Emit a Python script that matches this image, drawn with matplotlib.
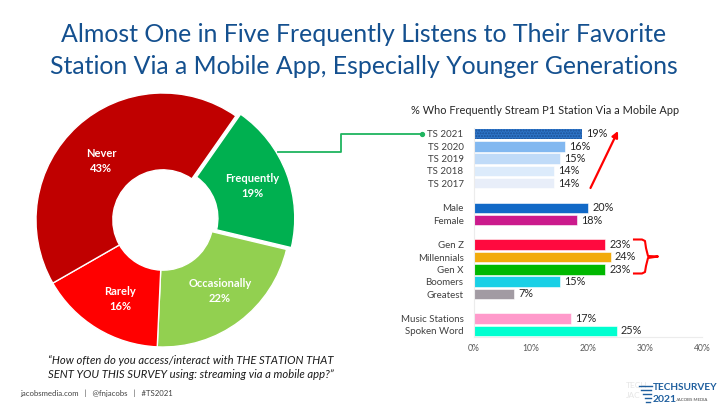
import matplotlib
matplotlib.use("Agg")
import matplotlib.pyplot as plt

plt.rcParams["font.family"] = ["Lato", "DejaVu Sans"]

# donut data, clockwise from the top right
slices = ["Frequently", "Occasionally", "Rarely", "Never"]
slice_vals = [19, 22, 16, 43]
slice_colors = ["#00b050", "#92d050", "#ff0000", "#c00000"]

# bars
bar_names = ["TS 2021", "TS 2020", "TS 2019", "TS 2018", "TS 2017",
             "Male", "Female",
             "Gen Z", "Millennials", "Gen X", "Boomers", "Greatest",
             "Music Stations", "Spoken Word"]
bar_vals = [19, 16, 15, 14, 14, 20, 18, 23, 24, 23, 15, 7, 17, 25]
bar_rows = [0, 1, 2, 3, 4, 6, 7, 9, 10, 11, 12, 13, 15, 16]
bar_colors = ["#2e75c8", "#82b8f0", "#c0dbf8", "#dcebfb", "#e8eef9",
              "#1269c7", "#cb1a8c",
              "#ff0a3f", "#f2ab0c", "#00b800", "#19d0e6", "#a29ba3",
              "#ff9acb", "#00ffd0"]
x_ticks = [0, 10, 20, 30, 40]

W, H = 725, 408
fig = plt.figure(figsize=(W / 100, H / 100), dpi=100, facecolor="white")


def px_axes(left, top, right, bottom):
    return fig.add_axes([left / W, 1 - bottom / H, (right - left) / W, (bottom - top) / H])


# overlay in pixel coordinates for the slide furniture
over = px_axes(0, 0, W, H)
over.set_xlim(0, W)
over.set_ylim(H, 0)
over.axis("off")
over.set_zorder(5)
over.patch.set_alpha(0)

over.text(364, 34.5, "Almost One in Five Frequently Listens to Their Favorite",
          ha="center", va="center", fontsize=17.9, color="#14508f")
over.text(364, 67, "Station Via a Mobile App, Especially Younger Generations",
          ha="center", va="center", fontsize=17.9, color="#14508f")

# donut
r = 127
pie_ax = px_axes(163 - 1.2 * r, 220 - 1.2 * r, 163 + 1.2 * r, 220 + 1.2 * r)
pie_ax.pie(slice_vals, colors=slice_colors, startangle=55, counterclock=False,
           explode=[0.04, 0, 0, 0], radius=1,
           wedgeprops=dict(width=0.605, edgecolor="white", linewidth=1.0))
pie_ax.set_xlim(-1.2, 1.2)
pie_ax.set_ylim(-1.2, 1.2)

label_xy = [(252, 186), (220, 291), (120, 299), (101, 161)]
for name, val, (lx, ly) in zip(slices, slice_vals, label_xy):
    over.text(lx, ly, f"{name}\n{val}%", ha="center", va="center", color="white",
              fontsize=8, fontweight="bold", linespacing=1.4)

# bars
ax = px_axes(474, 127.8, 702, 337.1)
bars = ax.barh(bar_rows, bar_vals, height=0.86, color=bar_colors, edgecolor="white", linewidth=0.4)
bars[0].set_hatch("......")
bars[0].set_edgecolor("#1b4f94")
bars[0].set_linewidth(0)
ax.set_xlim(0, 40)
ax.set_ylim(16.5, -0.5)
ax.set_yticks(bar_rows)
ax.set_yticklabels(bar_names, fontsize=7, color="#404040")
ax.set_xticks(x_ticks)
ax.set_xticklabels([f"{t}%" for t in x_ticks], fontsize=6.2, color="#595959")
ax.tick_params(length=0, pad=10)
ax.tick_params(axis="y", pad=7.5)
ax.tick_params(axis="x", pad=5)
for s in ["top", "right"]:
    ax.spines[s].set_visible(False)
for s in ["left", "bottom"]:
    ax.spines[s].set_color("#ececec")
labels = ax.bar_label(bars, labels=[f"{v}%" for v in bar_vals], padding=3, fontsize=7.8, color="#262626")
for lab in labels:
    lab.set_y(lab.get_position()[1] + 0.08)

over.text(545, 111, "% Who Frequently Stream P1 Station Via a Mobile App",
          ha="center", va="center", fontsize=7.9, color="#262626")

# connector from donut to the TS 2021 bar
over.plot([278, 341, 341, 422], [152, 152, 133.5, 133.5], color="#1fb45f", lw=1.3)
over.plot([422], [133.5], "o", color="#1fb45f", ms=2.8)

# trend arrow
over.annotate("", xy=(618, 131), xytext=(590.5, 188),
              arrowprops=dict(arrowstyle="-|>", color="#ff0000", lw=1.6, mutation_scale=9,
                              shrinkA=0, shrinkB=0))

# bracket around the younger generations
over.plot([634, 642, 645, 646, 648, 658, 648, 646, 645, 642, 634],
          [239.5, 239.5, 241, 248, 256, 256.5, 258, 266, 272, 273.5, 273.5],
          color="#ff0000", lw=1.5, solid_joinstyle="round")

# question
over.text(191, 361, "\u201cHow often do you access/interact with THE STATION THAT",
          ha="center", va="center", fontsize=8.15, style="italic", color="#1a1a1a")
over.text(191, 375, "SENT YOU THIS SURVEY using: streaming via a mobile app?\u201d",
          ha="center", va="center", fontsize=8.15, style="italic", color="#1a1a1a")

# footer
over.text(20, 393, "jacobsmedia.com   |   @fnjacobs   |   #TS2021", ha="left", va="center",
          fontsize=5.6, color="#404040")

# logo, with the faint ghost text behind it
over.text(626, 386, "TECH", ha="left", va="center", fontsize=6, color="#e6e6e6", zorder=1)
over.text(626, 396, "JAC", ha="left", va="center", fontsize=6, color="#e6e6e6", zorder=1)
over.text(653, 388, "TECHSURVEY", ha="left", va="center", fontsize=7.2,
          fontweight="bold", color="#1f5f9e", zorder=3)
over.text(653, 399, "2021", ha="left", va="center", fontsize=7.5, fontweight="bold",
          color="#1f5f9e", zorder=3)
over.text(676, 400, "JACOBS MEDIA", ha="left", va="center", fontsize=3.2, color="#404040", zorder=3)
for y0, x0, x1 in [(386, 639, 652), (390, 641, 651), (394, 643, 651), (398, 645, 651), (402, 646, 650)]:
    over.plot([x0, x1], [y0, y0], color="#1f5f9e", lw=1, zorder=3)

fig.savefig("out.png", dpi=100)
